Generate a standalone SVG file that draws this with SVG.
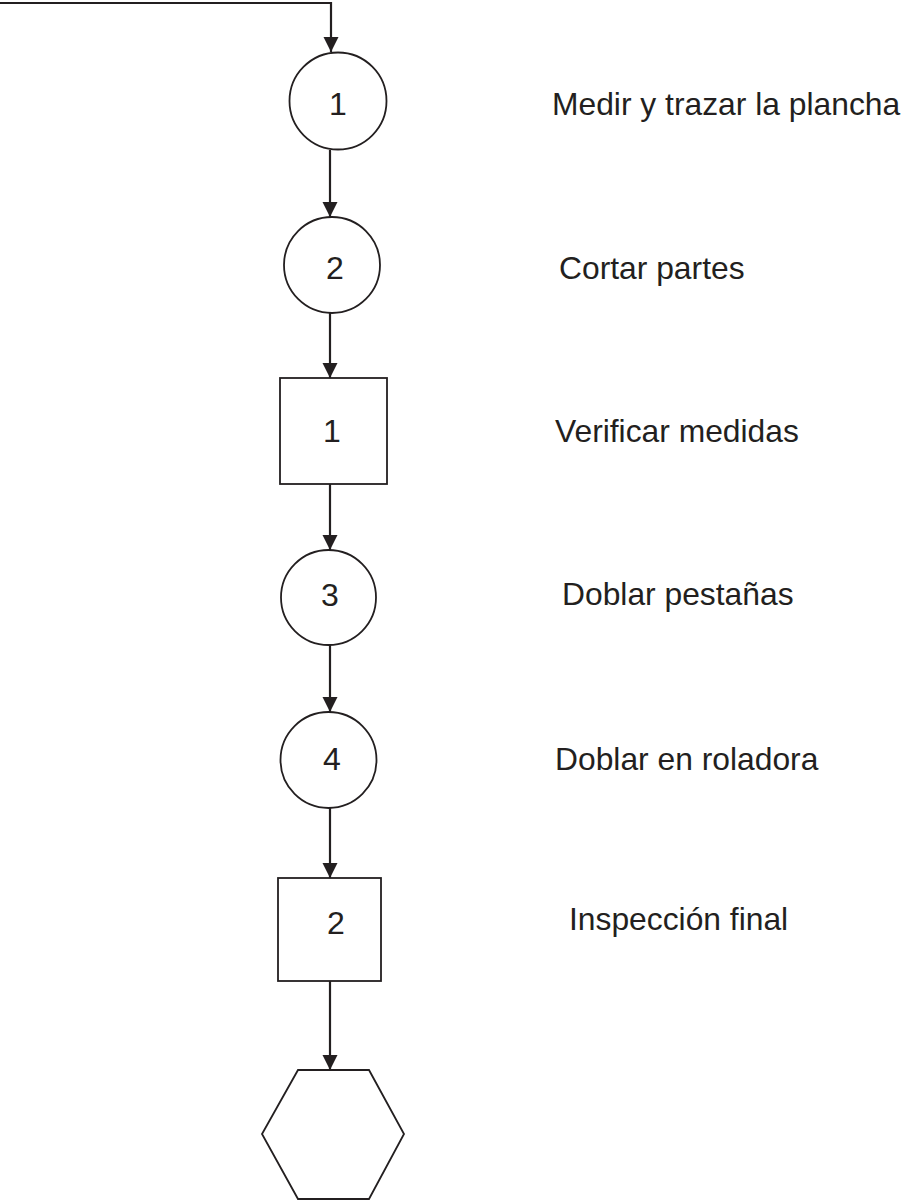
<svg xmlns="http://www.w3.org/2000/svg" width="903" height="1202" viewBox="0 0 903 1202">
  <style>
    .shape { fill: #ffffff; stroke: #231f20; stroke-width: 1.8; }
    .flow { fill: none; stroke: #231f20; stroke-width: 2.2; }
    .num { font-family: "Liberation Sans", Arial, sans-serif; font-size: 32px; fill: #231f20; text-anchor: middle; }
    .label { font-family: "Liberation Sans", Arial, sans-serif; font-size: 31.8px; fill: #231f20; }
  </style>
  <defs>
    <marker id="arrow" markerUnits="userSpaceOnUse" markerWidth="16" markerHeight="16" refX="15" refY="7.5" orient="auto">
      <path d="M0,0 L15,7.5 L0,15 Z" fill="#231f20"/>
    </marker>
  </defs>

  <g id="connectors">
    <path class="flow" d="M0,3 H331 V52" marker-end="url(#arrow)"/>
    <path class="flow" d="M330,150 V217" marker-end="url(#arrow)"/>
    <path class="flow" d="M330,313 V378" marker-end="url(#arrow)"/>
    <path class="flow" d="M330,484 V550" marker-end="url(#arrow)"/>
    <path class="flow" d="M330,645 V712" marker-end="url(#arrow)"/>
    <path class="flow" d="M330,808 V878" marker-end="url(#arrow)"/>
    <path class="flow" d="M330,981 V1070" marker-end="url(#arrow)"/>
  </g>

  <g id="op1">
    <circle class="shape" cx="338" cy="101" r="48.5"/>
    <text class="num" x="338" y="115">1</text>
    <text class="label" x="552" y="115">Medir y trazar la plancha</text>
  </g>
  <g id="op2">
    <circle class="shape" cx="332" cy="265" r="48"/>
    <text class="num" x="335" y="279">2</text>
    <text class="label" x="559" y="279">Cortar partes</text>
  </g>
  <g id="insp1">
    <rect class="shape" x="280" y="378" width="107" height="106"/>
    <text class="num" x="332" y="442">1</text>
    <text class="label" x="555" y="442">Verificar medidas</text>
  </g>
  <g id="op3">
    <circle class="shape" cx="328.5" cy="597.5" r="47.5"/>
    <text class="num" x="330" y="606">3</text>
    <text class="label" x="562" y="605">Doblar pestañas</text>
  </g>
  <g id="op4">
    <circle class="shape" cx="328.5" cy="760" r="48"/>
    <text class="num" x="332" y="770">4</text>
    <text class="label" x="555" y="770">Doblar en roladora</text>
  </g>
  <g id="insp2">
    <rect class="shape" x="278" y="878" width="103" height="103"/>
    <text class="num" x="336" y="934">2</text>
    <text class="label" x="569" y="930">Inspección final</text>
  </g>
  <g id="end">
    <polygon class="shape" points="298,1070 369,1070 404,1134 369,1199 298,1199 262,1134"/>
  </g>
</svg>
